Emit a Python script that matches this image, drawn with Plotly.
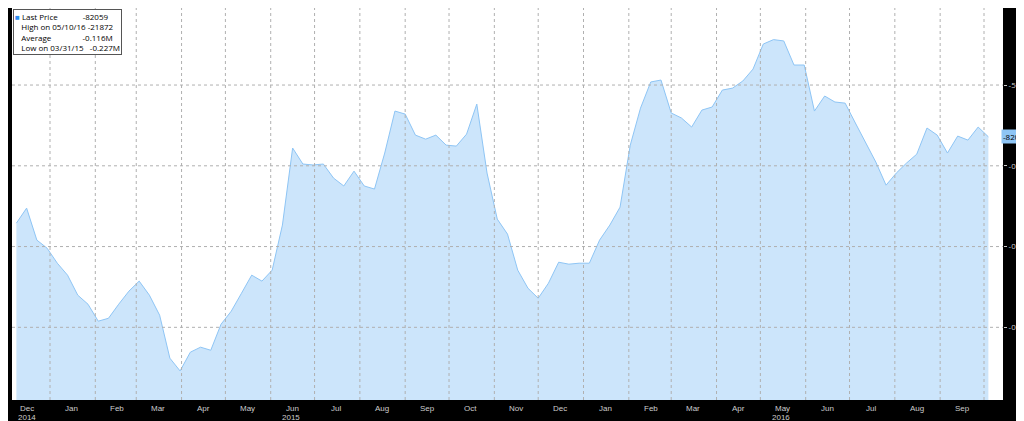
import pandas as pd
import plotly.graph_objects as go

values = [-135500,-126200,-146000,-151000,-160300,-167700,-180100,-185700,-196200,-194400,
 -185700,-177600,-171400,-180100,-192500,-219100,-227000,-215400,-212300,-214200,
 -198100,-190000,-178900,-167700,-171400,-164600,-136700,-89000,-98900,-99500,
 -98900,-107600,-112500,-103300,-112500,-114400,-92100,-66100,-68000,-81000,
 -83500,-81000,-87200,-87800,-80400,-61800,-104500,-133000,-142300,-164600,
 -175800,-182000,-172700,-159700,-160900,-160300,-160300,-146000,-136700,-125600,
 -87200,-64300,-48100,-46900,-67300,-70400,-76000,-65500,-63600,-53100,
 -51900,-47500,-40100,-24600,-21872,-22700,-37600,-37600,-66100,-56800,
 -60500,-61200,-73500,-85900,-97700,-112000,-104500,-98300,-92800,-76600,
 -81000,-92100,-81600,-84100,-76000,-82059]
dates = pd.date_range("2014-12-09", periods=len(values), freq="7D")

month_labels = ["Dec","Jan","Feb","Mar","Apr","May","Jun","Jul","Aug","Sep","Oct","Nov","Dec",
                "Jan","Feb","Mar","Apr","May","Jun","Jul","Aug","Sep","Oct"]
month_mids = pd.date_range("2014-12-01", periods=23, freq="MS") + pd.Timedelta(days=15)
month_starts = pd.date_range("2015-01-01", periods=22, freq="MS")
year_labels = ["2014", "2015", "2016"]
year_pos = ["2014-12-16", "2015-06-15", "2016-05-15"]
y_ticks = [-50000, -100000, -150000, -200000]
y_text = ["-50000", "-0.1M", "-0.15M", "-0.2M"]

fig = go.Figure()
fig.add_trace(go.Scatter(x=dates, y=[-260000]*len(values), mode="lines",
    line=dict(width=0), hoverinfo="skip"))
fig.add_trace(go.Scatter(x=dates, y=values, mode="lines", fill="tonexty",
    line=dict(color="#8ec5f5", width=1), fillcolor="#cce5fb", hoverinfo="skip"))

for m in month_starts:
    fig.add_shape(type="line", x0=m, x1=m, y0=0, y1=1, yref="paper",
                  line=dict(color="#b0b0b0", width=1, dash="dot"), layer="above")
for v in y_ticks:
    fig.add_shape(type="line", x0=0, x1=1, xref="paper", y0=v, y1=v,
                  line=dict(color="#b0b0b0", width=1, dash="dot"), layer="above")

small = dict(color="#cccccc", size=8, family="Liberation Sans Narrow, Arial Narrow, sans-serif")
ann = []
for d, t in zip(month_mids, month_labels):
    ann.append(dict(x=d, y=-0.005, yref="paper", text=t, showarrow=False, yanchor="top", font=small))
for d, t in zip(year_pos, year_labels):
    ann.append(dict(x=d, y=-0.028, yref="paper", text=t, showarrow=False, yanchor="top", font=small))
ann.append(dict(x=0, y=-0.052, xref="paper", yref="paper", xanchor="left", yanchor="top",
    text="IMMBENCN Index (Bloomberg CFTC CME Euro Fx Net Non-Commercial Futures Positions)",
    showarrow=False, font=small, xshift=-4))
ann.append(dict(x=0.615, y=-0.052, xref="paper", yref="paper", yanchor="top",
    text="Copyright© 2016 Bloomberg Finance L.P.", showarrow=False, font=small))
ann.append(dict(x=1, y=-0.052, xref="paper", yref="paper", xanchor="right", yanchor="top",
    text="11-Oct-2016 09:24:12", showarrow=False, font=small, xshift=28))
ann.append(dict(x=1, y=values[-1], xref="paper", xanchor="left", text="-82059", showarrow=False,
    bgcolor="#8ec5f5", font=dict(color="#000000", size=8), borderpad=1, xshift=-2))
ann.append(dict(x=0, y=1, xref="paper", yref="paper", xanchor="left", yanchor="top", align="left",
    text="<span style='color:#2a8cf0'>■</span> Last Price &nbsp;&nbsp;&nbsp;&nbsp;&nbsp;&nbsp;&nbsp;&nbsp;&nbsp;&nbsp;&nbsp;-82059<br>"
         "&nbsp;&nbsp;&nbsp;High on 05/10/16 -21872<br>&nbsp;&nbsp;&nbsp;Average &nbsp;&nbsp;&nbsp;&nbsp;&nbsp;&nbsp;&nbsp;&nbsp;&nbsp;&nbsp;&nbsp;&nbsp;&nbsp;&nbsp;-0.116M<br>"
         "&nbsp;&nbsp;&nbsp;Low on 03/31/15 &nbsp;&nbsp;-0.227M",
    showarrow=False, bgcolor="#ffffff", bordercolor="#555555", borderwidth=1,
    font=dict(color="#000000", size=8), xshift=1, yshift=-1))

fig.update_layout(width=1024, height=421, margin=dict(l=4, r=29, t=0, b=29, autoexpand=False),
    paper_bgcolor="#000000", plot_bgcolor="#ffffff", showlegend=False, annotations=ann,
    xaxis=dict(range=["2014-12-06", "2016-10-14"], showgrid=False, showticklabels=False,
               zeroline=False, fixedrange=True, automargin=False),
    yaxis=dict(range=[-245000, -2300], side="right", tickvals=y_ticks, ticktext=y_text,
               showgrid=False, zeroline=False, ticks="outside", ticklen=3, tickcolor="#cccccc",
               automargin=False, tickfont=dict(color="#cccccc", size=8)))
fig.write_html("out.html")
